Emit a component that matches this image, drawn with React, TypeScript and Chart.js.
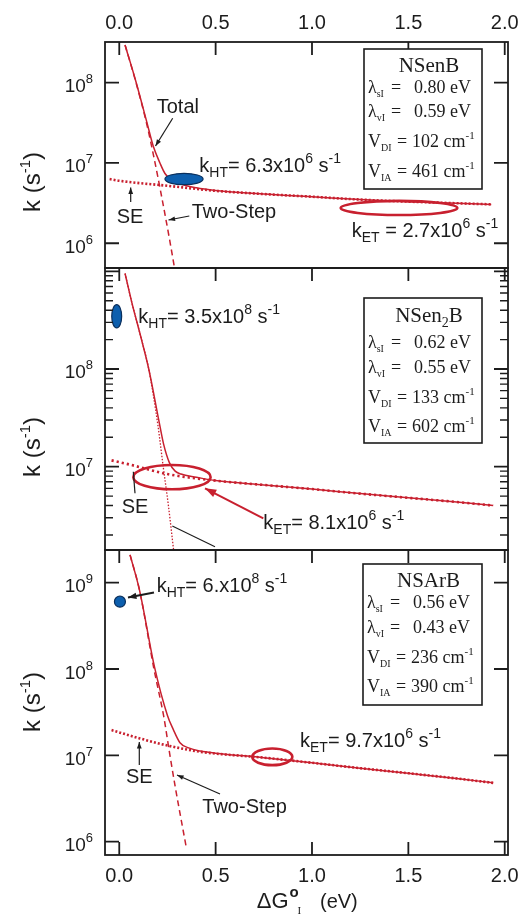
import React, { useEffect, useRef } from "react";
import { Chart, registerables } from "chart.js";
Chart.register(...registerables);

const W = 519;
const H = 917;
const INK = "#1c1c1c";
const RED = "#c8202f";
const BLUE = "#0d5fae";
const BLUE_EDGE = "#0a2f5c";
const SANS = '"Liberation Sans", Arial, Helvetica, sans-serif';
const SERIF = '"Liberation Serif", "Times New Roman", serif';

// shared x axis (ΔG°I, eV)
const X_MIN = -0.074;
const X_MAX = 2.017;
const X_TICKS = [0, 0.5, 1.0, 1.5, 2.0];

// ---------- Panel 1 : NSenB ----------
const p1SeX = [-0.05, 0, 0.25, 0.5, 0.75, 1.0, 1.25, 1.5, 1.75, 1.93];
const p1Se = [6.3e6, 6.0e6, 5.2e6, 4.5e6, 4.1e6, 3.8e6, 3.5e6, 3.3e6, 3.15e6, 3.05e6];
const p1TwoX = [0.03, 0.087, 0.142, 0.18, 0.22, 0.26, 0.285];
const p1Two = [2.95e8, 1.0e8, 3.1e7, 1.17e7, 3.8e6, 1.15e6, 5.2e5];
const p1TotX = [0.03, 0.087, 0.142, 0.177, 0.211, 0.237, 0.27, 0.315, 0.4, 0.5, 0.75, 1.0, 1.25, 1.5, 1.75, 1.93];
const p1Tot = [2.95e8, 1.02e8, 3.3e7, 1.6e7, 1.0e7, 7.4e6, 6.2e6, 5.5e6, 4.9e6, 4.55e6, 4.1e6, 3.8e6, 3.5e6, 3.3e6, 3.15e6, 3.05e6];
const p1Majors = [1e6, 1e7, 1e8];
const p1Labels = [1e6, 1e7, 1e8];
// ellipses: [xMin, xMax, yMin, yMax]
const p1HT = [0.237, 0.435, 5.36e6, 7.42e6];
const p1ET = [1.149, 1.754, 2.25e6, 3.37e6];
const p1Box = ["NSenB", "0.80 eV", "0.59 eV", "102 cm", "461 cm"];

// ---------- Panel 2 : NSen2B ----------
const p2SeX = [-0.04, 0.055, 0.25, 0.5, 0.75, 1.0, 1.25, 1.5, 1.75, 1.94];
const p2Se = [1.16e7, 1.05e7, 8.4e6, 7.2e6, 6.5e6, 5.9e6, 5.3e6, 4.8e6, 4.35e6, 4.0e6];
const p2TwoX = [0.03, 0.064, 0.11, 0.153, 0.2, 0.228, 0.255, 0.282];
const p2Two = [9.5e8, 4.9e8, 2.2e8, 1.0e8, 2.7e7, 1.0e7, 4.0e6, 1.4e6];
const p2TotX = [0.03, 0.064, 0.11, 0.153, 0.205, 0.23, 0.26, 0.29, 0.32, 0.4, 0.5, 0.75, 1.0, 1.25, 1.5, 1.75, 1.94];
const p2Tot = [9.5e8, 4.9e8, 2.2e8, 1.0e8, 3.0e7, 1.7e7, 1.1e7, 9.0e6, 8.4e6, 7.8e6, 7.2e6, 6.5e6, 5.9e6, 5.3e6, 4.8e6, 4.35e6, 4.0e6];
const p2Majors = [1e7, 1e8, 1e9];
const p2Labels = [1e7, 1e8];
const p2HT = [-0.039, 0.0125, 2.63e8, 4.55e8];
const p2ET = [0.073, 0.474, 5.87e6, 1.04e7];
const p2Box = ["NSen", "0.62 eV", "0.55 eV", "133 cm", "602 cm"];

// ---------- Panel 3 : NSArB ----------
const p3SeX = [-0.04, 0.107, 0.25, 0.42, 0.75, 1.0, 1.25, 1.5, 1.75, 1.94];
const p3Se = [1.96e7, 1.57e7, 1.3e7, 1.1e7, 9.4e6, 8.2e6, 7.1e6, 6.2e6, 5.4e6, 4.8e6];
const p3TwoX = [0.056, 0.105, 0.18, 0.231, 0.263, 0.293, 0.346];
const p3Two = [2.1e9, 8.2e8, 1.0e8, 2.8e7, 1.0e7, 4.0e6, 9.0e5];
const p3TotX = [0.056, 0.105, 0.183, 0.25, 0.28, 0.315, 0.36, 0.42, 0.5, 0.75, 1.0, 1.25, 1.5, 1.75, 1.94];
const p3Tot = [2.1e9, 8.2e8, 1.05e8, 2.9e7, 2.0e7, 1.4e7, 1.22e7, 1.12e7, 1.06e7, 9.4e6, 8.2e6, 7.1e6, 6.2e6, 5.4e6, 4.8e6];
const p3Majors = [1e6, 1e7, 1e8, 1e9];
const p3Labels = [1e6, 1e7, 1e8, 1e9];
const p3HT = [-0.025, 0.032, 5.2e8, 6.98e8];
const p3ET = [0.69, 0.898, 7.7e6, 1.2e7];
const p3Box = ["NSArB", "0.56 eV", "0.43 eV", "236 cm", "390 cm"];

type Seg = [string, "n" | "b" | "p"];

function zip(xs: number[], ys: number[]) {
  return xs.map((x, i) => ({ x, y: ys[i] }));
}

function rich(
  ctx: CanvasRenderingContext2D,
  x: number,
  y: number,
  segs: Seg[],
  family: string,
  size: number,
  small: number,
  subDy: number,
  supDy: number,
  draw = true
) {
  let cx = x;
  for (const [t, k] of segs) {
    const fs = k === "n" ? size : small;
    ctx.font = `${fs}px ${family}`;
    const dy = k === "b" ? subDy : k === "p" ? -supDy : 0;
    if (draw) ctx.fillText(t, cx, y + dy);
    cx += ctx.measureText(t).width;
  }
  return cx - x;
}

function label(ctx: CanvasRenderingContext2D, x: number, y: number, segs: Seg[]) {
  ctx.fillStyle = INK;
  ctx.textAlign = "left";
  ctx.textBaseline = "alphabetic";
  rich(ctx, x, y, segs, SANS, 20, 14, 5, 9);
}

function arrow(
  ctx: CanvasRenderingContext2D,
  x1: number, y1: number, x2: number, y2: number,
  color: string, head: number, width: number, withHead = true
) {
  ctx.strokeStyle = color;
  ctx.fillStyle = color;
  ctx.lineWidth = width;
  ctx.beginPath();
  ctx.moveTo(x1, y1);
  ctx.lineTo(x2, y2);
  ctx.stroke();
  if (!withHead) return;
  const a = Math.atan2(y2 - y1, x2 - x1);
  ctx.beginPath();
  ctx.moveTo(x2, y2);
  ctx.lineTo(x2 - head * Math.cos(a - 0.35), y2 - head * Math.sin(a - 0.35));
  ctx.lineTo(x2 - head * Math.cos(a + 0.35), y2 - head * Math.sin(a + 0.35));
  ctx.closePath();
  ctx.fill();
}

interface BoxDef {
  rect: [number, number, number, number];
  title: Seg[];
  titleY: number;
  texts: string[];
  lineY: number[];
}

function drawBox(ctx: CanvasRenderingContext2D, b: BoxDef) {
  const [l, t, r, btm] = b.rect;
  ctx.fillStyle = "#fff";
  ctx.fillRect(l, t, r - l, btm - t);
  ctx.strokeStyle = INK;
  ctx.lineWidth = 1.6;
  ctx.strokeRect(l, t, r - l, btm - t);
  ctx.fillStyle = INK;
  ctx.textBaseline = "alphabetic";
  ctx.textAlign = "left";
  const tw = rich(ctx, 0, 0, b.title, SERIF, 21, 14, 5, 8, false);
  rich(ctx, (l + r) / 2 + 6 - tw / 2, b.titleY, b.title, SERIF, 21, 14, 5, 8);
  const syms: Seg[][] = [
    [["λ", "n"], ["sI", "b"]],
    [["λ", "n"], ["vI", "b"]],
    [["V", "n"], ["DI", "b"]],
    [["V", "n"], ["IA", "b"]],
  ];
  for (let i = 0; i < 4; i++) {
    const y = b.lineY[i];
    rich(ctx, l + 4, y, syms[i], SERIF, 18, 10, 4, 8);
    const isV = i >= 2;
    ctx.font = `18px ${SERIF}`;
    ctx.fillText("=", l + (isV ? 33 : 27), y);
    const segs: Seg[] = isV ? [[b.texts[i + 1], "n"], ["-1", "p"]] : [[b.texts[i + 1], "n"]];
    rich(ctx, l + (isV ? 48 : 50), y, segs, SERIF, 18, 11, 4, 8);
  }
}

interface PanelDef {
  id: number;
  top: number;
  bottom: number;
  yMin: number;
  yMax: number;
  majors: number[];
  labels: number[];
  minors: boolean;
  topLabels: boolean;
  bottomAxis: boolean;
  datasets: any[];
  ellipses: { e: number[]; fill: boolean }[];
  box: BoxDef;
  yTitleY: number;
  notes: (ctx: CanvasRenderingContext2D) => void;
}

function lineSets(
  totX: number[], tot: number[], twoX: number[], two: number[], seX: number[], se: number[],
  twoDash: number[], twoWidth: number, seDash: number[]
) {
  const common = { pointRadius: 0, borderColor: RED, fill: false, cubicInterpolationMode: "monotone", clip: 0 };
  return [
    { ...common, label: "Total", data: zip(totX, tot), borderWidth: 1.5 },
    { ...common, label: "Two-Step", data: zip(twoX, two), borderWidth: twoWidth, borderDash: twoDash },
    { ...common, label: "SE", data: zip(seX, se), borderWidth: 2.6, borderDash: seDash },
  ];
}

const PANELS: PanelDef[] = [
  {
    id: 1, top: 42, bottom: 268, yMin: 4.92e5, yMax: 3.21e8,
    majors: p1Majors, labels: p1Labels, minors: false, topLabels: true, bottomAxis: false,
    datasets: lineSets(p1TotX, p1Tot, p1TwoX, p1Two, p1SeX, p1Se, [6, 4], 1.5, [2, 2]),
    ellipses: [{ e: p1HT, fill: true }, { e: p1ET, fill: false }],
    box: { rect: [364, 49, 482, 189], title: [[p1Box[0], "n"]], titleY: 72, texts: p1Box, lineY: [93, 117, 147, 177] },
    yTitleY: 182,
    notes: (ctx) => {
      label(ctx, 156.7, 113.3, [["Total", "n"]]);
      arrow(ctx, 172.7, 118.3, 155.5, 146, INK, 7, 1.2);
      label(ctx, 199.3, 171.7, [["k", "n"], ["HT", "b"], ["= 6.3x10", "n"], ["6", "p"], [" s", "n"], ["-1", "p"]]);
      label(ctx, 116.7, 222.7, [["SE", "n"]]);
      arrow(ctx, 130.7, 202, 130.7, 187.5, INK, 7, 1.2);
      label(ctx, 191.7, 218.3, [["Two-Step", "n"]]);
      arrow(ctx, 189.3, 216, 168.5, 220, INK, 7, 1.2);
      label(ctx, 351.7, 236.7, [["k", "n"], ["ET", "b"], [" = 2.7x10", "n"], ["6", "p"], [" s", "n"], ["-1", "p"]]);
    },
  },
  {
    id: 2, top: 268, bottom: 550, yMin: 1.403e6, yMax: 1.081e9,
    majors: p2Majors, labels: p2Labels, minors: true, topLabels: false, bottomAxis: false,
    datasets: lineSets(p2TotX, p2Tot, p2TwoX, p2Two, p2SeX, p2Se, [1.5, 1.6], 1.3, [2.2, 3]),
    ellipses: [{ e: p2HT, fill: true }, { e: p2ET, fill: false }],
    box: { rect: [364, 298, 482, 443], title: [[p2Box[0], "n"], ["2", "b"], ["B", "n"]], titleY: 322, texts: p2Box, lineY: [348.3, 372.7, 402.7, 431.7] },
    yTitleY: 447,
    notes: (ctx) => {
      label(ctx, 138.3, 323.3, [["k", "n"], ["HT", "b"], ["= 3.5x10", "n"], ["8", "p"], [" s", "n"], ["-1", "p"]]);
      label(ctx, 121.7, 513, [["SE", "n"]]);
      arrow(ctx, 133.3, 471.7, 135, 493.3, INK, 0, 1.2, false);
      label(ctx, 263.3, 529.3, [["k", "n"], ["ET", "b"], ["= 8.1x10", "n"], ["6", "p"], [" s", "n"], ["-1", "p"]]);
      arrow(ctx, 263.3, 518.3, 205, 488.3, RED, 12, 2);
      arrow(ctx, 172.3, 526, 215, 546.7, INK, 0, 1.1, false);
    },
  },
  {
    id: 3, top: 550, bottom: 855, yMin: 7.01e5, yMax: 2.39e9,
    majors: p3Majors, labels: p3Labels, minors: false, topLabels: false, bottomAxis: true,
    datasets: lineSets(p3TotX, p3Tot, p3TwoX, p3Two, p3SeX, p3Se, [6, 4], 1.5, [2, 2]),
    ellipses: [{ e: p3HT, fill: true }, { e: p3ET, fill: false }],
    box: { rect: [363, 564, 482, 705], title: [[p3Box[0], "n"]], titleY: 587, texts: p3Box, lineY: [608.3, 632.7, 662.7, 691.7] },
    yTitleY: 702,
    notes: (ctx) => {
      label(ctx, 156.7, 591.7, [["k", "n"], ["HT", "b"], ["= 6.x10", "n"], ["8", "p"], [" s", "n"], ["-1", "p"]]);
      arrow(ctx, 154, 592.5, 128, 597.5, INK, 9, 2);
      label(ctx, 300, 746.7, [["k", "n"], ["ET", "b"], ["= 9.7x10", "n"], ["6", "p"], [" s", "n"], ["-1", "p"]]);
      label(ctx, 126, 782.7, [["SE", "n"]]);
      arrow(ctx, 139.3, 765, 139.3, 742, INK, 7, 1.2);
      label(ctx, 202.3, 812.7, [["Two-Step", "n"]]);
      arrow(ctx, 220, 794, 177, 775, INK, 7, 1.2);
    },
  },
];

function makePlugin(p: PanelDef) {
  return {
    id: "panelDecor" + p.id,
    afterDatasetsDraw(chart: any) {
      const ctx: CanvasRenderingContext2D = chart.ctx;
      const { left, right, top, bottom } = chart.chartArea;
      const xs = chart.scales.x;
      const ys = chart.scales.y;
      ctx.save();

      // ellipses (data ranges through the scales)
      for (const el of p.ellipses) {
        const [x0, x1, y0, y1] = el.e;
        const px0 = xs.getPixelForValue(x0);
        const px1 = xs.getPixelForValue(x1);
        const py0 = ys.getPixelForValue(y0);
        const py1 = ys.getPixelForValue(y1);
        ctx.beginPath();
        ctx.ellipse((px0 + px1) / 2, (py0 + py1) / 2, Math.abs(px1 - px0) / 2, Math.abs(py1 - py0) / 2, 0, 0, Math.PI * 2);
        if (el.fill) {
          ctx.fillStyle = BLUE;
          ctx.fill();
          ctx.strokeStyle = BLUE_EDGE;
          ctx.lineWidth = 1.2;
          ctx.stroke();
        } else {
          ctx.strokeStyle = RED;
          ctx.lineWidth = 2.6;
          ctx.stroke();
        }
      }

      // frame
      ctx.strokeStyle = INK;
      ctx.lineWidth = 1.8;
      ctx.strokeRect(left, top, right - left, bottom - top);

      // x ticks
      ctx.lineWidth = 1.8;
      for (const v of X_TICKS) {
        const X = xs.getPixelForValue(v);
        ctx.beginPath();
        ctx.moveTo(X, top);
        ctx.lineTo(X, top + 13);
        if (p.bottomAxis) {
          ctx.moveTo(X, bottom);
          ctx.lineTo(X, bottom - 13);
        }
        ctx.stroke();
      }

      // y ticks
      for (const v of p.majors) {
        const Y = ys.getPixelForValue(v);
        if (Y < top - 0.5 || Y > bottom + 0.5) continue;
        ctx.beginPath();
        ctx.moveTo(left, Y);
        ctx.lineTo(left + 14, Y);
        ctx.moveTo(right, Y);
        ctx.lineTo(right - 14, Y);
        ctx.stroke();
      }
      if (p.minors) {
        ctx.lineWidth = 1.4;
        const d0 = Math.floor(Math.log10(p.yMin));
        const d1 = Math.ceil(Math.log10(p.yMax));
        for (let d = d0; d <= d1; d++) {
          for (let m = 2; m <= 9; m++) {
            const v = m * Math.pow(10, d);
            if (v < p.yMin || v > p.yMax) continue;
            const Y = ys.getPixelForValue(v);
            ctx.beginPath();
            ctx.moveTo(left, Y);
            ctx.lineTo(left + 8, Y);
            ctx.moveTo(right, Y);
            ctx.lineTo(right - 8, Y);
            ctx.stroke();
          }
        }
      }

      // y tick labels 10^n
      ctx.fillStyle = INK;
      ctx.textAlign = "left";
      ctx.textBaseline = "alphabetic";
      for (const v of p.labels) {
        const Y = ys.getPixelForValue(v);
        const segs: Seg[] = [["10", "n"], [String(Math.round(Math.log10(v))), "p"]];
        const w = rich(ctx, 0, 0, segs, SANS, 19, 13, 0, 9, false);
        rich(ctx, 93 - w, Y + 9.5, segs, SANS, 19, 13, 0, 9);
      }

      // x tick labels
      ctx.font = `20px ${SANS}`;
      ctx.textAlign = "center";
      for (const v of X_TICKS) {
        const X = xs.getPixelForValue(v);
        if (p.topLabels) ctx.fillText(v.toFixed(1), X, 29);
        if (p.bottomAxis) ctx.fillText(v.toFixed(1), X, 882);
      }
      ctx.textAlign = "left";

      // y axis title k (s^-1)
      {
        const segs: Seg[] = [["k (s", "n"], ["-1", "p"], [")", "n"]];
        const w = rich(ctx, 0, 0, segs, SANS, 24, 15, 0, 10, false);
        ctx.save();
        ctx.translate(40, p.yTitleY);
        ctx.rotate(-Math.PI / 2);
        rich(ctx, -w / 2, 0, segs, SANS, 24, 15, 0, 10);
        ctx.restore();
      }

      // x axis title
      if (p.bottomAxis) {
        ctx.fillStyle = INK;
        let x = 256.7;
        ctx.font = `22px ${SANS}`;
        ctx.fillText("ΔG", x, 908);
        x += ctx.measureText("ΔG").width;
        ctx.font = `bold 15px ${SANS}`;
        ctx.fillText("o", x + 1, 897);
        ctx.font = `11px ${SERIF}`;
        ctx.fillText("I", x + 9, 914);
        ctx.font = `20px ${SANS}`;
        ctx.fillText("(eV)", 320, 908);
      }

      drawBox(ctx, p.box);
      p.notes(ctx);
      ctx.restore();
    },
  };
}

export default function App() {
  const r0 = useRef<HTMLCanvasElement>(null);
  const r1 = useRef<HTMLCanvasElement>(null);
  const r2 = useRef<HTMLCanvasElement>(null);
  const refs = [r0, r1, r2];

  useEffect(() => {
    const charts = PANELS.map((p, i) =>
      new Chart(refs[i].current as HTMLCanvasElement, {
        type: "line",
        data: { datasets: p.datasets },
        options: {
          responsive: false,
          animation: false,
          devicePixelRatio: 1,
          events: [],
          layout: { padding: { left: 105, right: 11, top: p.top, bottom: H - p.bottom } },
          plugins: { legend: { display: false }, tooltip: { enabled: false } },
          scales: {
            x: { type: "linear", min: X_MIN, max: X_MAX, display: false },
            y: { type: "logarithmic", min: p.yMin, max: p.yMax, display: false },
          },
        },
        plugins: [makePlugin(p)],
      } as any)
    );
    return () => charts.forEach((c) => c.destroy());
  }, []);

  return (
    <div style={{ position: "absolute", left: 0, top: 0, width: W, height: H, background: "#fff" }}>
      {refs.map((r, i) => (
        <canvas key={i} ref={r} width={W} height={H} style={{ position: "absolute", left: 0, top: 0 }} />
      ))}
    </div>
  );
}
